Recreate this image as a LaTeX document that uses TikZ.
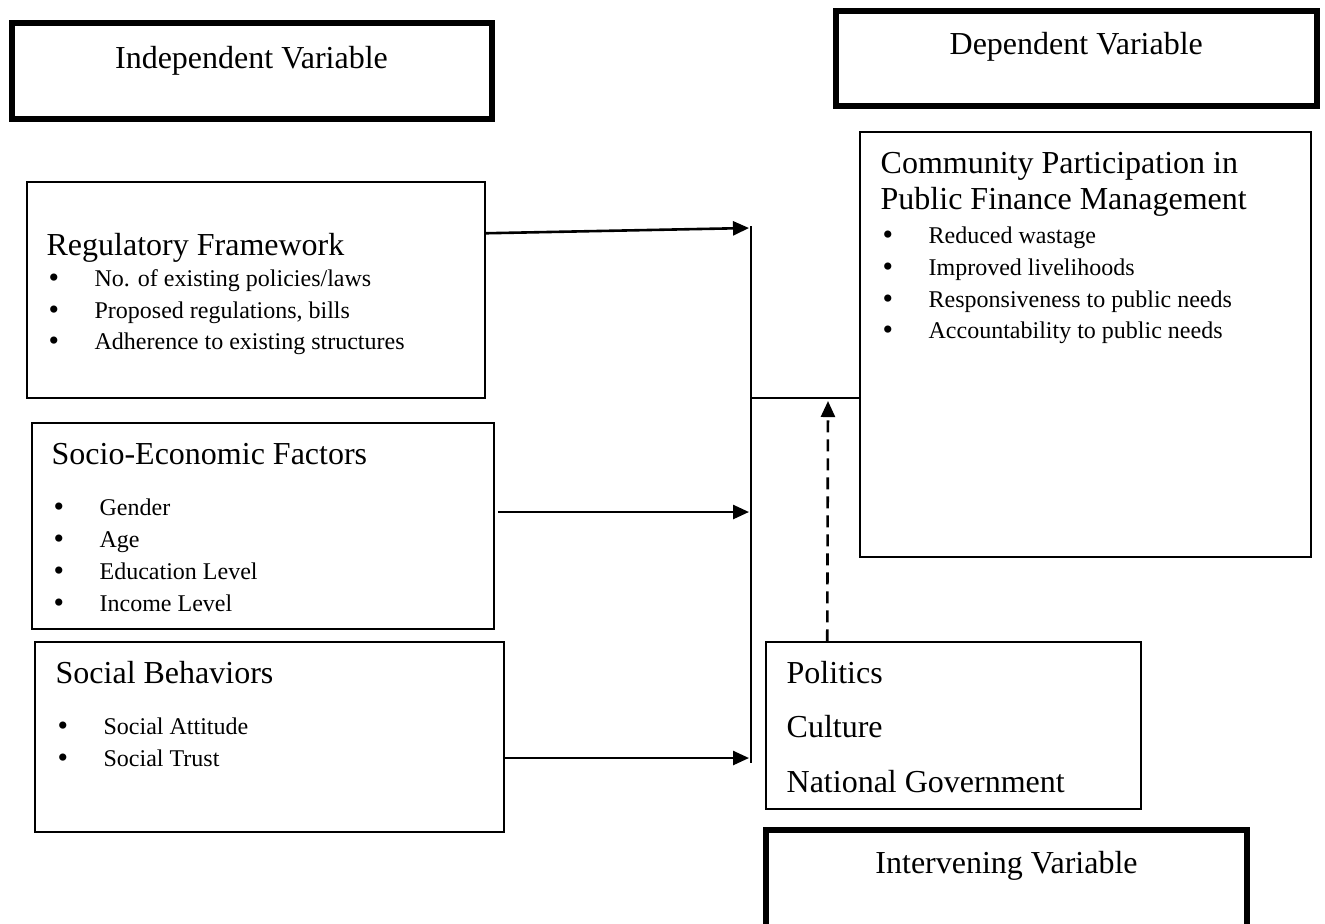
\documentclass[tikz,border=0pt]{standalone}
\usepackage{fontspec}
\setmainfont{Liberation Serif}
\usetikzlibrary{arrows.meta,positioning,calc,fit}

\newcommand{\bul}[1]{\makebox[23pt][l]{\raisebox{-0.5pt}{\fontsize{15}{15}\selectfont\textbullet}}#1}

\begin{document}
\begin{tikzpicture}[
    x=0.5pt, y=-0.5pt,
    box/.style={draw, line width=0.75pt, inner sep=0pt},
    varbox/.style={draw, line width=3pt, inner sep=0pt},
    head/.style={font=\fontsize{16}{18}\selectfont, inner sep=0pt, anchor=base west},
    item/.style={font=\fontsize{12}{14}\selectfont, inner sep=0pt, anchor=base west},
    link/.style={line width=1.3pt, -{Triangle[length=8pt, width=7pt]}},
    bus/.style={line width=0.9pt},
]
    \useasboundingbox (0,0) rectangle (1325,923);
    \clip (0,0) rectangle (1325,923);

    % Variable labels
    \node[varbox, fit={(11.5,23) (491.5,118.5)}] (indep) {};
    \node[head, anchor=base] (indep-t) at ($(indep.north)+(0,48)$) {Independent Variable};
    \node[varbox, fit={(836,10.5) (1316.5,106)}] (dep) {};
    \node[head, anchor=base] (dep-t) at ($(dep.north)+(0,46.5)$) {Dependent Variable};
    \node[varbox, fit={(766,830) (1247,960)}] (interv) {};
    \node[head, anchor=base] (interv-t) at ($(interv.north)+(0,46)$) {Intervening Variable};

    % Boxes
    \node[box, fit={(27,182) (485,398)}] (reg) {};
    \node[box, fit={(32,423) (494,629)}] (socio) {};
    \node[box, fit={(35,642) (504,832)}] (social) {};
    \node[box, fit={(860,132) (1311,557)}] (cpfm) {};
    \node[box, fit={(766,642) (1141,809)}] (inter) {};

    % Box titles
    \node[head] (reg-t) at ($(reg.north west)+(20,74)$) {Regulatory Framework};
    \node[head] (socio-t) at ($(socio.north west)+(20,42)$) {Socio-Economic Factors};
    \node[head] (social-t) at ($(social.north west)+(21,42)$) {Social Behaviors};
    \node[head] (cpfm-t1) at ($(cpfm.north west)+(21,42)$) {Community Participation in};
    \node[head] (cpfm-t2) at ($(cpfm.north west)+(21,78)$) {Public Finance Management};

    % Bullet lists
    \foreach \txt [count=\i from 0] in {No. of existing policies/laws,
        {Proposed regulations, bills}, Adherence to existing structures}
        \node[item] (reg-\i) at ($(reg.north west)+(22,105.5+31.5*\i)$) {\bul{\txt}};
    \foreach \txt [count=\i from 0] in {Gender, Age, Education Level, Income Level}
        \node[item] (socio-\i) at ($(socio.north west)+(22,93.5+32*\i)$) {\bul{\txt}};
    \foreach \txt [count=\i from 0] in {Social Attitude, Social Trust}
        \node[item] (social-\i) at ($(social.north west)+(23,93.5+32*\i)$) {\bul{\txt}};
    \foreach \txt [count=\i from 0] in {Reduced wastage, Improved livelihoods,
        Responsiveness to public needs, Accountability to public needs}
        \node[item] (cpfm-\i) at ($(cpfm.north west)+(23,112.5+31.7*\i)$) {\bul{\txt}};
    \foreach \txt [count=\i from 0] in {Politics, Culture, National Government}
        \node[head] (inter-\i) at ($(inter.north west)+(21,42+54.5*\i)$) {\txt};

    % Connectors
    \coordinate (bustop) at (751,226);
    \coordinate (busbot) at (751,763);
    \coordinate (join) at (751,398);
    \coordinate (b1) at (749,228);
    \coordinate (b2) at (749,512);
    \coordinate (b3) at (749,758);
    \coordinate (dtip) at (828,401);
    \draw[bus] (bustop) -- (busbot);
    \draw[bus] (join) -- (join -| cpfm.west);
    \draw[link] ($(reg.north east)+(0,52)$) -- (b1);
    \draw[link] ($(socio.east)+(3,-14)$) -- (b2);
    \draw[link] ($(social.east)+(0,21)$) -- (b3);
    \draw[link, dash pattern=on 6pt off 3.5pt] ($(inter.north west)+(62,0)$) -- (dtip);
\end{tikzpicture}
\end{document}
